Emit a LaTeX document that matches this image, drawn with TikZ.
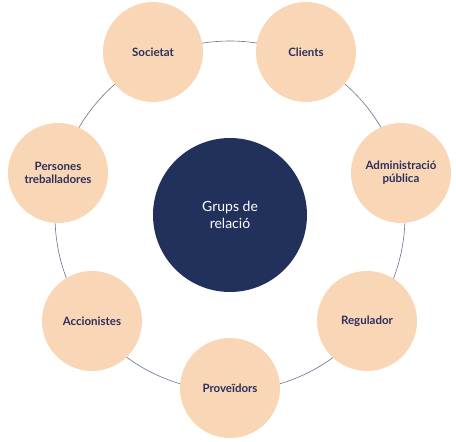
\documentclass[tikz,border=0pt]{standalone}
\usepackage{fontspec}
\setmainfont{Lato}
\usepackage{xcolor}
\definecolor{blaufosc}{HTML}{22305C}
\definecolor{preseg}{HTML}{F9D6B5}
\definecolor{anell}{HTML}{6B7090}
\definecolor{textblau}{HTML}{2B2F5C}
\usetikzlibrary{positioning}

\tikzset{
  grup/.style={circle, fill=preseg, minimum size=100pt, inner sep=0pt,
    align=center, text=textblau, font=\fontsize{11.5}{13}\selectfont\bfseries},
  centre/.style={circle, fill=blaufosc, minimum size=154pt, inner sep=0pt,
    align=center, text=white, font=\fontsize{14}{17}\selectfont}
}

\begin{document}
\begin{tikzpicture}[x=1pt, y=-1pt]

\useasboundingbox (0,0) rectangle (456,442);

\coordinate (mig) at (230,216);
\draw[anell, line width=0.6pt] (mig) circle(175pt); % anell

\node[centre] (grups) at (230,215) {Grups de\\relació};

\node[grup] (societat) at (153,52) {Societat};
\node[grup] (clients) at (306,52) {Clients};
\node[grup] (admin) at (401,173) {Administració\\pública};
\node[grup] (regulador) at (367,321) {Regulador};
\node[grup] (proveidors) at (230,388) {Proveïdors};
\node[grup] (accionistes) at (92,321) {Accionistes};
\node[grup] (persones) at (58,173) {Persones\\treballadores};

\end{tikzpicture}
\end{document}
